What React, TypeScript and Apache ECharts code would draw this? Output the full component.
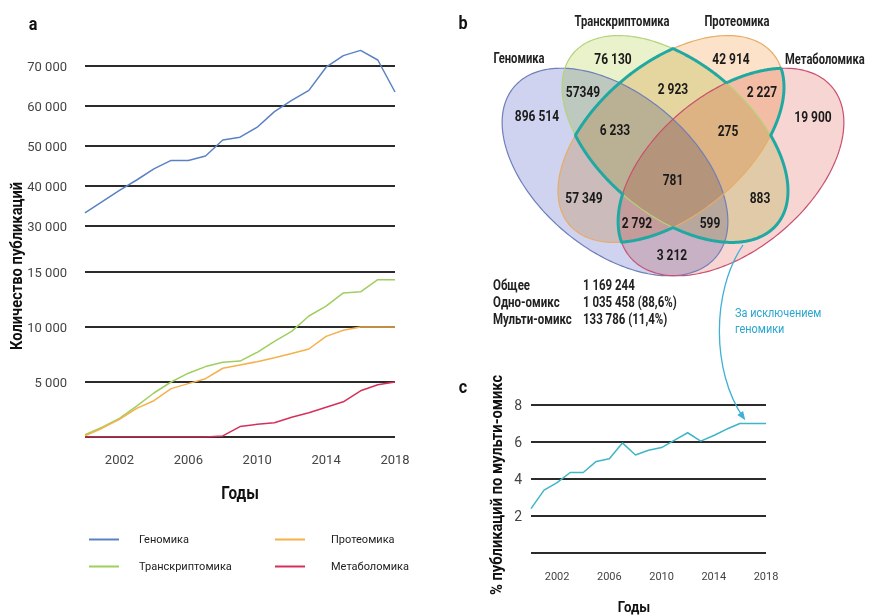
import React, { useEffect, useRef } from 'react';
import * as echarts from 'echarts';

// ---------- DATA ----------
const years = [2000, 2001, 2002, 2003, 2004, 2005, 2006, 2007, 2008, 2009, 2010, 2011, 2012, 2013, 2014, 2015, 2016, 2017, 2018];
const genomics = [33300, 36100, 38900, 41500, 44300, 46400, 46400, 47500, 51500, 52200, 54700, 58600, 61400, 63900, 69700, 72600, 73900, 71500, 63500];
const transcriptomics = [200, 900, 1700, 2800, 4000, 5000, 5800, 6400, 6800, 6900, 7700, 8700, 9600, 11000, 11900, 13100, 13200, 14300, 14300];
const proteomics = [100, 800, 1600, 2600, 3300, 4400, 4850, 5300, 6250, 6550, 6850, 7200, 7600, 8000, 9150, 9700, 10000, 10000, 10000];
const metabolomics = [0, 0, 0, 0, 0, 0, 0, 0, 100, 950, 1150, 1300, 1800, 2200, 2700, 3200, 4200, 4750, 5000];
const multiOmicsPct = [2.4, 3.4, 3.8, 4.35, 4.35, 4.95, 5.1, 5.95, 5.3, 5.55, 5.7, 6.1, 6.5, 6.05, 6.35, 6.7, 7.0, 7.0, 7.0];

const seriesNames = ['Геномика', 'Транскриптомика', 'Протеомика', 'Метаболомика'];
const seriesColors = ['#5a82c2', '#9fcf5f', '#f5b04c', '#d6305a'];

const vennSetLabels = ['Геномика', 'Транскриптомика', 'Протеомика', 'Метаболомика'];
const vennCounts = ['896 514', '76 130', '42 914', '19 900', '57349', '2 923', '2 227', '6 233', '275', '781', '57 349', '883', '2 792', '599', '3 212'];
const summaryLabels = ['Общее', 'Одно-омикс', 'Мульти-омикс'];
const summaryValues = ['1 169 244', '1 035 458 (88,6%)', '133 786 (11,4%)'];

// ---------- LAYOUT ----------
const FONT = "Roboto, 'Liberation Sans', sans-serif";
const vennCountPos = [[537, 115], [613, 58], [731, 58], [813, 116], [583, 91], [673, 88], [762, 91], [615, 129], [728, 130], [673, 179], [584, 197], [760, 197], [637, 222], [710, 222], [672, 254]];
const vennLabelPos = [[519, 58, 'center'], [622, 21, 'center'], [737, 21, 'center'], [785, 59, 'left']];

type Ell = { cx: number; cy: number; a: number; b: number; rot: number; fill: string; stroke: string };
const ELL: Ell[] = [
  { cx: 615, cy: 172, a: 132, b: 78, rot: 40, fill: '#cfd3ef', stroke: '#6f7fb9' },
  { cx: 675, cy: 139, a: 133, b: 76, rot: 40, fill: '#e9f2cb', stroke: '#b3d47a' },
  { cx: 671, cy: 139, a: 133, b: 76, rot: -40, fill: '#fbe2c8', stroke: '#e8ac66' },
  { cx: 731, cy: 172, a: 132, b: 78, rot: -40, fill: '#f7d5d3', stroke: '#c9506e' },
];

function ellipsePoints(e: Ell, n: number): number[][] {
  const t = (e.rot * Math.PI) / 180;
  const ct = Math.cos(t), st = Math.sin(t);
  const pts: number[][] = [];
  for (let i = 0; i < n; i++) {
    const s = (2 * Math.PI * i) / n;
    const u = e.a * Math.cos(s), v = e.b * Math.sin(s);
    pts.push([e.cx + u * ct - v * st, e.cy + u * st + v * ct]);
  }
  return pts;
}
function inside(e: Ell, x: number, y: number) {
  const t = (e.rot * Math.PI) / 180;
  const dx = x - e.cx, dy = y - e.cy;
  const u = dx * Math.cos(t) + dy * Math.sin(t);
  const v = -dx * Math.sin(t) + dy * Math.cos(t);
  return (u * u) / (e.a * e.a) + (v * v) / (e.b * e.b) < 1;
}
function tealRuns(): number[][][] {
  const runs: number[][][] = [];
  const trio = [1, 2, 3];
  for (const i of trio) {
    const e = ELL[i];
    const others = trio.filter((j) => j !== i).map((j) => ELL[j]);
    const n = 720;
    const pts = ellipsePoints(e, n);
    const flags = pts.map(([x, y]) => others.filter((o) => inside(o, x, y)).length === 1);
    const start = flags.indexOf(false);
    if (start < 0) { runs.push([...pts, pts[0]]); continue; }
    let cur: number[][] = [];
    for (let k = 1; k <= n; k++) {
      const idx = (start + k) % n;
      const prev = (idx - 1 + n) % n;
      if (flags[idx]) {
        if (!cur.length) cur.push(pts[prev]);
        cur.push(pts[idx]);
      } else if (cur.length) {
        cur.push(pts[idx]);
        runs.push(cur);
        cur = [];
      }
    }
    if (cur.length) runs.push(cur);
  }
  return runs;
}

const fmtThousands = (v: number) => String(v).replace(/\B(?=(\d{3})+(?!\d))/g, ' ');
const yearLabel = (v: number) => ((v - 2002) % 4 === 0 ? String(v) : '');

function buildOption() {
  const g: any[] = [];
  const txt = (text: string, x: number, y: number, size: number, weight: string, fill: string, align = 'center', rotation = 0, sx = 0.84) => ({
    type: 'text', x, y, rotation, scaleX: sx, z: 20,
    style: { text, fill, fontSize: size, fontWeight: weight, fontFamily: FONT, align, verticalAlign: 'middle' },
  });
  // panel letters
  g.push(txt('a', 33, 24, 18, 'bold', '#111', 'center', 0, 0.9));
  g.push(txt('b', 463, 23, 18, 'bold', '#111', 'center', 0, 0.9));
  g.push(txt('c', 463, 387, 18, 'bold', '#111', 'center', 0, 0.9));
  // axis names
  g.push(txt('Количество публикаций', 17, 266, 16, 'bold', '#111', 'center', Math.PI / 2, 0.92));
  g.push(txt('% публикаций по мульти-омикс', 497, 485, 16, 'bold', '#111', 'center', Math.PI / 2, 0.92));
  g.push(txt('Годы', 240, 493, 18, 'bold', '#111', 'center', 0, 0.85));
  g.push(txt('Годы', 634, 607, 15, 'bold', '#111', 'center', 0, 0.88));

  // Venn fills, outlines and the multi-omics (excluding genomics) contour
  ELL.forEach((e) => g.push({ type: 'polygon', z: 1, shape: { points: ellipsePoints(e, 240) }, style: { fill: e.fill } }));
  ELL.forEach((e) => g.push({ type: 'polygon', z: 2, shape: { points: ellipsePoints(e, 240) }, style: { fill: 'none', stroke: e.stroke, lineWidth: 1.2 } }));
  tealRuns().forEach((r) => g.push({ type: 'polyline', z: 3, shape: { points: r }, style: { fill: 'none', stroke: '#22a8a3', lineWidth: 3 } }));

  // arrow to panel c
  g.push({ type: 'bezierCurve', z: 3, shape: { x1: 743, y1: 245, x2: 743, y2: 417, cpx1: 711, cpy1: 292, cpx2: 712, cpy2: 372 }, style: { fill: 'none', stroke: '#3fb0d6', lineWidth: 1.3 } });
  g.push({ type: 'polygon', z: 3, shape: { points: [[745.3, 420.3], [737.3, 414.9], [743.1, 410.9]] }, style: { fill: '#3fb0d6' } });
  g.push(txt('За исключением', 735, 313, 13, 'normal', '#2aa6cf', 'left', 0, 0.84));
  g.push(txt('геномики', 735, 329, 13, 'normal', '#2aa6cf', 'left', 0, 0.84));

  // Venn labels
  vennSetLabels.forEach((s, i) => g.push(txt(s, vennLabelPos[i][0] as number, vennLabelPos[i][1] as number, 14, 'bold', '#222', vennLabelPos[i][2] as string, 0, 0.8)));
  vennCounts.forEach((s, i) => g.push(txt(s, vennCountPos[i][0], vennCountPos[i][1], 15, 'bold', '#1a1a1a', 'center', 0, 0.8)));
  summaryLabels.forEach((s, i) => g.push(txt(s, 493, 285 + i * 17, 14, 'bold', '#222', 'left', 0, 0.82)));
  summaryValues.forEach((s, i) => g.push(txt(s, 583, 285 + i * 17, 14, 'bold', '#222', 'left', 0, 0.82)));

  const axisText = { fontFamily: FONT, fontSize: 13, color: '#444' };
  const split = { show: true, lineStyle: { color: '#2b2b2b', width: 2 } };
  const pairs = (arr: number[]) => years.map((y, i) => [y, arr[i]]);
  const legendText = { fontFamily: FONT, fontSize: 11, color: '#222' };

  return {
    animation: false,
    grid: [
      { left: 85, right: 478, top: 66, height: 160 },
      { left: 85, right: 478, top: 272, height: 165 },
      { left: 531, right: 107, top: 405, height: 148 },
    ],
    xAxis: [
      { gridIndex: 0, type: 'value', min: 2000, max: 2018, show: false, splitLine: { show: false } },
      { gridIndex: 1, type: 'value', min: 2000, max: 2018, interval: 2, axisLine: { show: false }, axisTick: { show: false }, splitLine: { show: false }, axisLabel: { ...axisText, margin: 16, formatter: yearLabel } },
      { gridIndex: 2, type: 'value', min: 2000, max: 2018, interval: 2, axisLine: { show: false }, axisTick: { show: false }, splitLine: { show: false }, axisLabel: { ...axisText, fontSize: 11, margin: 18, formatter: yearLabel } },
    ],
    yAxis: [
      { gridIndex: 0, type: 'value', min: 30000, max: 70000, interval: 10000, axisLine: { show: false }, axisTick: { show: false }, splitLine: split, axisLabel: { ...axisText, margin: 18, formatter: fmtThousands } },
      { gridIndex: 1, type: 'value', min: 0, max: 15000, interval: 5000, axisLine: { show: false }, axisTick: { show: false }, splitLine: split, axisLabel: { ...axisText, margin: 18, formatter: (v: number) => (v === 0 ? '' : fmtThousands(v)) } },
      { gridIndex: 2, type: 'value', min: 0, max: 8, interval: 2, axisLine: { show: false }, axisTick: { show: false }, splitLine: split, axisLabel: { ...axisText, fontSize: 14, margin: 9, formatter: (v: number) => (v === 0 ? '' : String(v)) } },
    ],
    legend: [
      { data: [seriesNames[0], seriesNames[1]], left: 84, top: 529, orient: 'vertical', icon: 'rect', itemWidth: 30, itemHeight: 2, itemGap: 16, textStyle: { ...legendText, padding: [0, 0, 0, 15] } },
      { data: [seriesNames[2], seriesNames[3]], left: 270, top: 529, orient: 'vertical', icon: 'rect', itemWidth: 30, itemHeight: 2, itemGap: 16, textStyle: { ...legendText, padding: [0, 0, 0, 21] } },
    ],
    series: [
      { name: seriesNames[0], type: 'line', xAxisIndex: 0, yAxisIndex: 0, data: pairs(genomics), showSymbol: false, clip: false, color: seriesColors[0], lineStyle: { width: 1.5 } },
      { name: seriesNames[1], type: 'line', xAxisIndex: 1, yAxisIndex: 1, data: pairs(transcriptomics), showSymbol: false, color: seriesColors[1], lineStyle: { width: 1.5 } },
      { name: seriesNames[2], type: 'line', xAxisIndex: 1, yAxisIndex: 1, data: pairs(proteomics), showSymbol: false, color: seriesColors[2], lineStyle: { width: 1.5 } },
      { name: seriesNames[3], type: 'line', xAxisIndex: 1, yAxisIndex: 1, data: pairs(metabolomics), showSymbol: false, color: seriesColors[3], lineStyle: { width: 1.5 } },
      { name: 'Мульти-омикс (%)', type: 'line', xAxisIndex: 2, yAxisIndex: 2, data: pairs(multiOmicsPct), showSymbol: false, color: '#3fb6c6', lineStyle: { width: 1.5 } },
    ],
    graphic: { elements: g },
  };
}

const css = `body{margin:0}
path[fill="#cfd3ef"],path[fill="#e9f2cb"],path[fill="#fbe2c8"],path[fill="#f7d5d3"]{mix-blend-mode:multiply}`;

export default function App() {
  const ref = useRef<HTMLDivElement>(null);
  useEffect(() => {
    const chart = echarts.init(ref.current!, null, { renderer: 'svg' });
    chart.setOption(buildOption() as any);
    return () => chart.dispose();
  }, []);
  return (
    <>
      <style>{css}</style>
      <div ref={ref} style={{ width: 873, height: 616 }} />
    </>
  );
}
